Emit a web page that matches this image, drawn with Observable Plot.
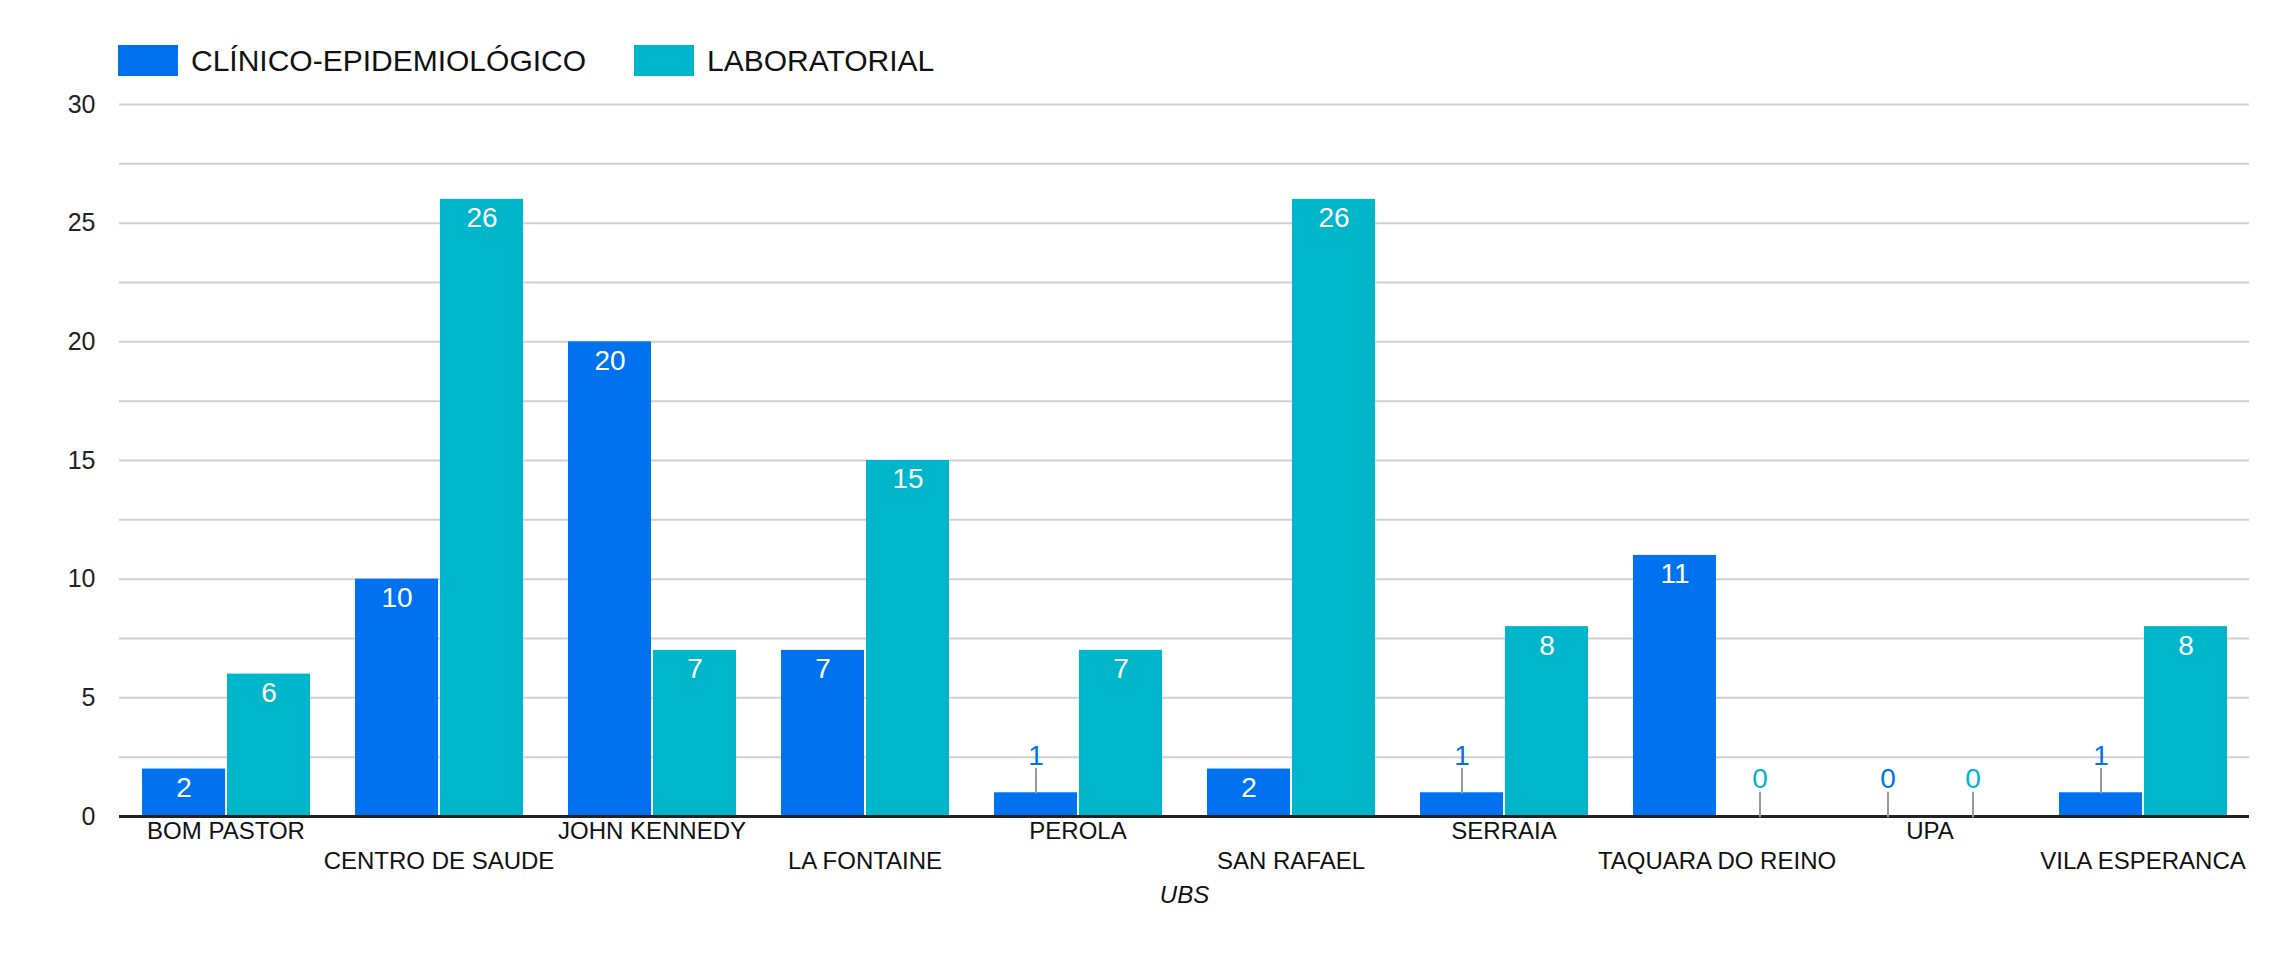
<!DOCTYPE html>
<html>
<head>
<meta charset="utf-8">
<script src="https://cdn.jsdelivr.net/npm/d3@7"></script>
<script src="https://cdn.jsdelivr.net/npm/@observablehq/plot@0.6"></script>
<style>
  html, body { margin: 0; padding: 0; background: #fff; overflow: hidden; }
  body { font-family: "Liberation Sans", Arial, sans-serif; width: 2281px; height: 954px; }
  #legend { height: 90px; position: relative; }
  .item { position: absolute; top: 45px; display: flex; align-items: center; height: 31px; }
  .sw { width: 60px; height: 31px; margin-right: 13px; }
  .lab { font-size: 30px; color: #111; line-height: 31px; }
</style>
</head>
<body>
<div id="legend"></div>
<div id="chart"></div>
<script>
const categories = ["BOM PASTOR", "CENTRO DE SAUDE", "JOHN KENNEDY", "LA FONTAINE", "PEROLA", "SAN RAFAEL", "SERRAIA", "TAQUARA DO REINO", "UPA", "VILA ESPERANCA"];
const series = ["CLÍNICO-EPIDEMIOLÓGICO", "LABORATORIAL"];
const clinico = [2, 10, 20, 7, 1, 2, 1, 11, 0, 1];
const laboratorial = [6, 26, 7, 15, 7, 26, 8, 0, 0, 8];
const colors = ["#0072f0", "#00b6cb"];
const yTickValues = [0, 5, 10, 15, 20, 25, 30];
const yGridValues = [2.5, 5, 7.5, 10, 12.5, 15, 17.5, 20, 22.5, 25, 27.5, 30];
const axisTitle = "UBS";

const rows = [];
categories.forEach((c, i) => {
  rows.push({ubs: c, serie: series[0], value: clinico[i]});
  rows.push({ubs: c, serie: series[1], value: laboratorial[i]});
});

// legend
const legend = document.getElementById("legend");
const legendLeft = [118, 634];
series.forEach((s, i) => {
  const it = document.createElement("div");
  it.className = "item";
  it.style.left = legendLeft[i] + "px";
  it.innerHTML = `<div class="sw" style="background:${colors[i]}"></div><div class="lab">${s}</div>`;
  legend.appendChild(it);
});

const catRows = categories.map((c, i) => ({c, i}));
const font = "Liberation Sans, Arial, sans-serif";

const chart = Plot.plot({
  width: 2281,
  height: 864,
  marginLeft: 117,
  marginRight: 30,
  marginTop: 14,
  marginBottom: 138,
  style: {fontFamily: font, background: "#fff", color: "#222"},
  fx: {domain: categories, padding: 0, axis: null},
  x: {domain: series, padding: 0, paddingOuter: 0.25, axis: null},
  y: {domain: [0, 30], axis: null},
  color: {domain: series, range: colors},
  marks: [
    Plot.gridY(yGridValues, {stroke: "#d0d0d0", strokeOpacity: 1, strokeWidth: 2}),
    Plot.axisY(yTickValues, {tickSize: 0, tickPadding: 24, fontSize: 25, fill: "#222", label: null}),
    Plot.barY(rows, {fx: "ubs", x: "serie", y: "value", fill: "serie", insetLeft: 1, insetRight: 1}),
    Plot.ruleY([0], {stroke: "#222", strokeWidth: 3}),
    Plot.text(rows.filter(d => d.value >= 2), {fx: "ubs", x: "serie", y: "value", text: d => String(d.value), dy: 19, fill: "white", fontSize: 28}),
    Plot.vector(rows.filter(d => d.value < 2), {
      fx: "ubs", x: "serie", y: "value", length: 24, rotate: 0, anchor: "start",
      stroke: "#999", strokeWidth: 2,
      shape: {draw(context, l) { context.moveTo(0, 0); context.lineTo(0, -l); }}
    }),
    Plot.text(rows.filter(d => d.value < 2), {fx: "ubs", x: "serie", y: "value", text: d => String(d.value), dy: -37, fill: "serie", fontSize: 28}),
    Plot.text(catRows.filter(d => d.i % 2 === 0), {fx: "c", text: "c", frameAnchor: "bottom", dy: 22, fontSize: 24, fill: "#111"}),
    Plot.text(catRows.filter(d => d.i % 2 === 1), {fx: "c", text: "c", frameAnchor: "bottom", dy: 52, fontSize: 24, fill: "#111"}),
    Plot.text([axisTitle], {fx: () => categories[4], text: d => d, frameAnchor: "bottom-right", textAnchor: "middle", dy: 86, fontSize: 24, fontStyle: "italic", fill: "#111"})
  ]
});
document.getElementById("chart").appendChild(chart);
</script>
</body>
</html>
